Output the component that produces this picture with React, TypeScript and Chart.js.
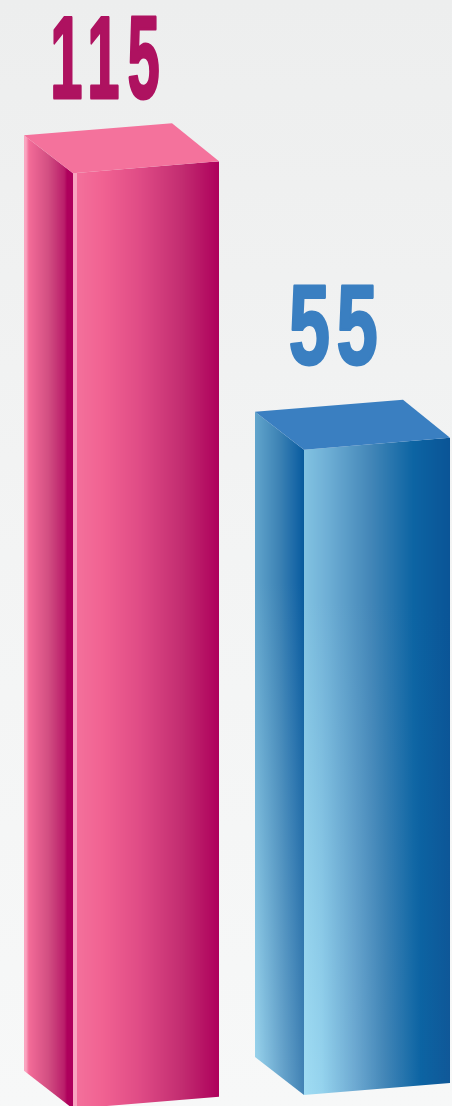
import React, { useEffect, useRef } from "react";
import { Chart, registerables } from "chart.js";

Chart.register(...registerables);

const categories = ["A", "B"];
const values = [115, 55];
const lows = [-88, -85];
const labelColors = ["#ae1260", "#3a7fc1"];
const topColors = ["#f4729c", "#3a7fc1"];

type Stop = [number, number, number, number];
const frontTop: Stop[][] = [
  [[0, 248, 165, 192], [0.025, 248, 165, 192], [0.03, 243, 112, 155], [0.2, 241, 98, 146], [0.45, 224, 76, 134], [0.75, 194, 44, 112], [1, 174, 0, 92]],
  [[0, 130, 195, 226], [0.15, 112, 176, 214], [0.45, 68, 135, 184], [0.75, 12, 100, 163], [1, 10, 84, 150]],
];
const frontBottom: Stop[][] = [
  [[0, 248, 165, 192], [0.025, 248, 165, 192], [0.03, 243, 112, 155], [0.2, 241, 98, 146], [0.45, 224, 76, 134], [0.75, 194, 44, 112], [1, 174, 0, 92]],
  [[0, 160, 220, 243], [0.12, 150, 212, 238], [0.35, 110, 170, 210], [0.55, 68, 135, 184], [0.8, 12, 100, 163], [1, 16, 88, 152]],
];
const sideTop: Stop[][] = [
  [[0, 250, 165, 192], [0.04, 250, 165, 192], [0.1, 243, 108, 152], [0.5, 210, 78, 130], [0.82, 186, 30, 106], [0.88, 174, 0, 92], [1, 174, 0, 92]],
  [[0, 98, 165, 204], [0.5, 60, 130, 180], [0.88, 20, 100, 165], [1, 8, 90, 155]],
];
const sideBottom: Stop[][] = [
  [[0, 250, 165, 192], [0.04, 250, 165, 192], [0.1, 243, 108, 152], [0.5, 210, 78, 130], [0.82, 186, 30, 106], [0.88, 174, 0, 92], [1, 174, 0, 92]],
  [[0, 156, 214, 238], [0.5, 110, 170, 208], [1, 66, 130, 180]],
];

function colorAt(stops: Stop[], t: number) {
  let i = 0;
  while (i < stops.length - 2 && t > stops[i + 1][0]) i++;
  const a = stops[i];
  const b = stops[i + 1];
  const k = Math.min(1, Math.max(0, (t - a[0]) / (b[0] - a[0] || 1)));
  const c = [1, 2, 3].map((n) => Math.round(a[n] + (b[n] - a[n]) * k));
  return `rgb(${c[0]},${c[1]},${c[2]})`;
}

function shade(
  ctx: CanvasRenderingContext2D,
  x0: number, x1: number, yt0: number, yt1: number, yb0: number, yb1: number,
  tops: Stop[], bottoms: Stop[],
) {
  ctx.save();
  ctx.beginPath();
  ctx.moveTo(x0, yt0);
  ctx.lineTo(x1, yt1);
  ctx.lineTo(x1, yb1);
  ctx.lineTo(x0, yb0);
  ctx.closePath();
  ctx.clip();
  for (let x = Math.floor(x0); x < x1; x++) {
    const t = (x + 0.5 - x0) / (x1 - x0);
    const g = ctx.createLinearGradient(0, Math.min(yt0, yt1), 0, Math.max(yb0, yb1));
    g.addColorStop(0, colorAt(tops, t));
    g.addColorStop(0.25, colorAt(tops, t));
    g.addColorStop(1, colorAt(bottoms, t));
    ctx.fillStyle = g;
    ctx.fillRect(x, Math.min(yt0, yt1), 1, Math.max(yb0, yb1) - Math.min(yt0, yt1));
  }
  ctx.restore();
}

const bars3d = {
  id: "bars3d",
  beforeDraw(chart: any) {
    const { ctx, width, height } = chart;
    const g = ctx.createLinearGradient(0, 0, 0, height);
    g.addColorStop(0, "#edeeee");
    g.addColorStop(0.5, "#f3f4f4");
    g.addColorStop(1, "#f7f8f8");
    ctx.fillStyle = g;
    ctx.fillRect(0, 0, width, height);
  },
  afterDatasetsDraw(chart: any) {
    const { ctx } = chart;
    const slope = 12;
    const sideW = 49;
    const depth = 38;
    const backX = 47;
    chart.getDatasetMeta(0).data.forEach((bar: any, i: number) => {
      const left = bar.x - bar.width / 2;
      const right = bar.x + bar.width / 2;
      const fl = left + sideW;
      const top = Math.min(bar.y, bar.base);
      const base = Math.max(bar.y, bar.base);
      shade(ctx, left, fl, top + slope - depth, top + slope, base + slope - depth, base + slope, sideTop[i], sideBottom[i]);
      shade(ctx, fl, right, top + slope, top, base + slope, base, frontTop[i], frontBottom[i]);
      ctx.beginPath();
      ctx.moveTo(left, top + slope - depth);
      ctx.lineTo(right - backX, top - depth);
      ctx.lineTo(right, top);
      ctx.lineTo(fl, top + slope);
      ctx.closePath();
      ctx.fillStyle = topColors[i];
      ctx.fill();

      const cx = bar.x + (i === 0 ? -12.5 : -16);
      const baseline = top - (i === 0 ? 63 : 74);
      ctx.save();
      ctx.translate(cx, baseline);
      ctx.scale(i === 0 ? 0.5 : 0.64, i === 0 ? 1 : 0.97);
      ctx.font = 'bold 116px "Liberation Sans Narrow", "Liberation Sans"';
      (ctx as any).letterSpacing = i === 0 ? "16px" : "10px";
      ctx.textAlign = "center";
      ctx.textBaseline = "alphabetic";
      ctx.fillStyle = labelColors[i];
      ctx.strokeStyle = labelColors[i];
      ctx.lineWidth = 3;
      ctx.lineJoin = "round";
      ctx.fillText(String(values[i]), 0, 0);
      ctx.strokeText(String(values[i]), 0, 0);
      ctx.restore();
    });
  },
};

export default function App() {
  const ref = useRef<HTMLCanvasElement>(null);
  useEffect(() => {
    const chart = new Chart(ref.current!, {
      type: "bar",
      data: {
        labels: categories,
        datasets: [
          {
            data: values.map((v, i) => [lows[i], v]),
            backgroundColor: "transparent",
            barThickness: 195,
            clip: false,
          } as any,
        ],
      },
      options: {
        animation: false,
        responsive: false,
        layout: { padding: { left: 121.5, right: 99.5, top: 0, bottom: 0 } },
        plugins: { legend: { display: false }, tooltip: { enabled: false } },
        scales: {
          x: { display: false, offset: false },
          y: { display: false, min: -90, max: 150 },
        },
      },
      plugins: [bars3d],
    });
    return () => chart.destroy();
  }, []);
  return (
    <div style={{ position: "fixed", left: 0, top: 0, width: 452, height: 1106, overflow: "hidden" }}>
      <canvas ref={ref} width={452} height={1106} style={{ display: "block" }} />
    </div>
  );
}
